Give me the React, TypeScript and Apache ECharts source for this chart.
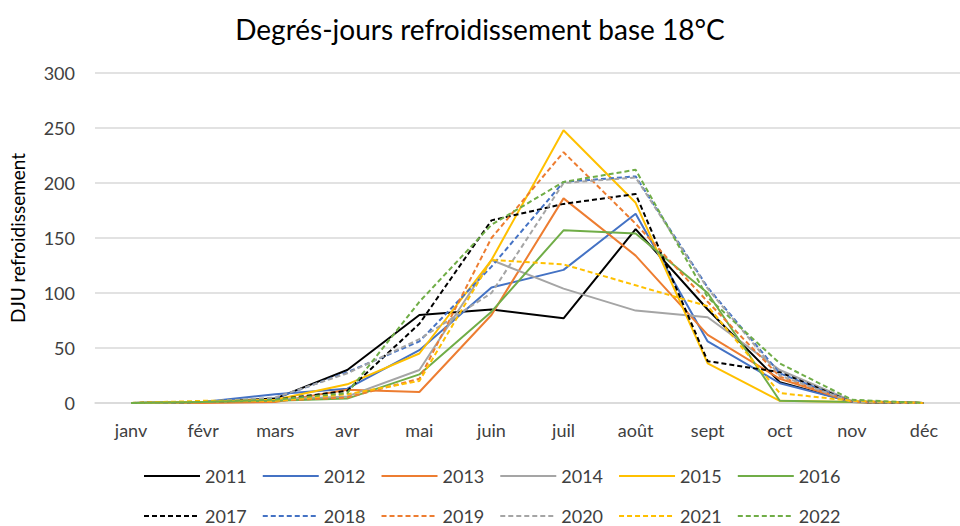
import React, { useEffect, useRef } from "react";
import * as echarts from "echarts";

const months = ["janv", "févr", "mars", "avr", "mai", "juin", "juil", "août", "sept", "oct", "nov", "déc"];

const y2011 = [0, 1, 4, 30, 80, 85, 77, 158, 85, 19, 1, 0];
const y2012 = [0, 1, 8, 13, 48, 105, 121, 172, 56, 18, 1, 0];
const y2013 = [0, 0, 1, 12, 10, 80, 186, 134, 62, 22, 1, 0];
const y2014 = [0, 1, 3, 6, 30, 130, 104, 84, 78, 30, 2, 0];
const y2015 = [0, 1, 3, 17, 45, 130, 248, 182, 36, 2, 1, 0];
const y2016 = [0, 1, 2, 4, 26, 83, 157, 154, 100, 2, 1, 0];
const y2017 = [0, 1, 3, 11, 72, 166, 181, 190, 38, 28, 1, 0];
const y2018 = [0, 1, 4, 28, 56, 124, 201, 206, 105, 27, 1, 0];
const y2019 = [0, 1, 2, 5, 22, 150, 228, 163, 92, 24, 1, 0];
const y2020 = [0, 1, 5, 27, 58, 100, 200, 205, 104, 25, 1, 0];
const y2021 = [0, 2, 2, 8, 20, 130, 126, 107, 88, 9, 2, 0];
const y2022 = [0, 1, 3, 9, 92, 162, 201, 212, 96, 36, 3, 0];

const solidYears = ["2011", "2012", "2013", "2014", "2015", "2016"];
const dashedYears = ["2017", "2018", "2019", "2020", "2021", "2022"];
const palette = ["#000000", "#4472C4", "#ED7D31", "#A5A5A5", "#FFC000", "#70AD47"];
const solidData = [y2011, y2012, y2013, y2014, y2015, y2016];
const dashedData = [y2017, y2018, y2019, y2020, y2021, y2022];

const FONT = "Lato";

export default function App() {
  const ref = useRef<HTMLDivElement>(null);
  useEffect(() => {
    document.body.style.margin = "0";
    if (!ref.current) return;
    const chart = echarts.init(ref.current, null, { renderer: "svg" });
    const series: any[] = [];
    solidYears.forEach((name, i) => {
      series.push({
        name,
        type: "line",
        data: solidData[i],
        symbol: "none",
        lineStyle: { color: palette[i], width: 2, type: "solid" },
        itemStyle: { color: palette[i] },
      });
    });
    dashedYears.forEach((name, i) => {
      series.push({
        name,
        type: "line",
        data: dashedData[i],
        symbol: "none",
        lineStyle: { color: palette[i], width: 2, type: [5, 3] },
        itemStyle: { color: palette[i] },
      });
    });
    const legendCommon = {
      left: 138,
      padding: [0, 5],
      itemWidth: 56,
      itemHeight: 10,
      itemGap: 15,
      itemStyle: { opacity: 0 },
      textStyle: { fontFamily: FONT, fontSize: 18, color: "#404040" },
    };
    chart.setOption({
      animation: false,
      backgroundColor: "#ffffff",
      title: {
        text: "Degrés-jours refroidissement base 18°C",
        left: "center",
        top: 10,
        textStyle: { fontFamily: FONT, fontSize: 28, fontWeight: "normal", color: "#000000" },
      },
      legend: [
        { ...legendCommon, top: 467, data: solidYears },
        { ...legendCommon, top: 507, data: dashedYears },
      ],
      grid: { left: 94, right: -11, top: 73, bottom: 123 },
      xAxis: {
        type: "category",
        data: months,
        boundaryGap: true,
        axisLine: { show: true, lineStyle: { color: "#D9D9D9", width: 1.5 } },
        axisTick: { show: false },
        axisLabel: { fontFamily: FONT, fontSize: 18, color: "#404040", margin: 18 },
      },
      yAxis: {
        type: "value",
        min: 0,
        max: 300,
        interval: 50,
        name: "DJU refroidissement",
        nameLocation: "middle",
        nameGap: 68,
        nameTextStyle: { fontFamily: FONT, fontSize: 19, color: "#000000" },
        axisLine: { show: false },
        axisTick: { show: false },
        axisLabel: { fontFamily: FONT, fontSize: 18, color: "#404040", margin: 20 },
        splitLine: { lineStyle: { color: "#D9D9D9", width: 1.5 } },
      },
      series,
    });
    return () => chart.dispose();
  }, []);
  return <div ref={ref} style={{ width: 960, height: 526 }} />;
}
